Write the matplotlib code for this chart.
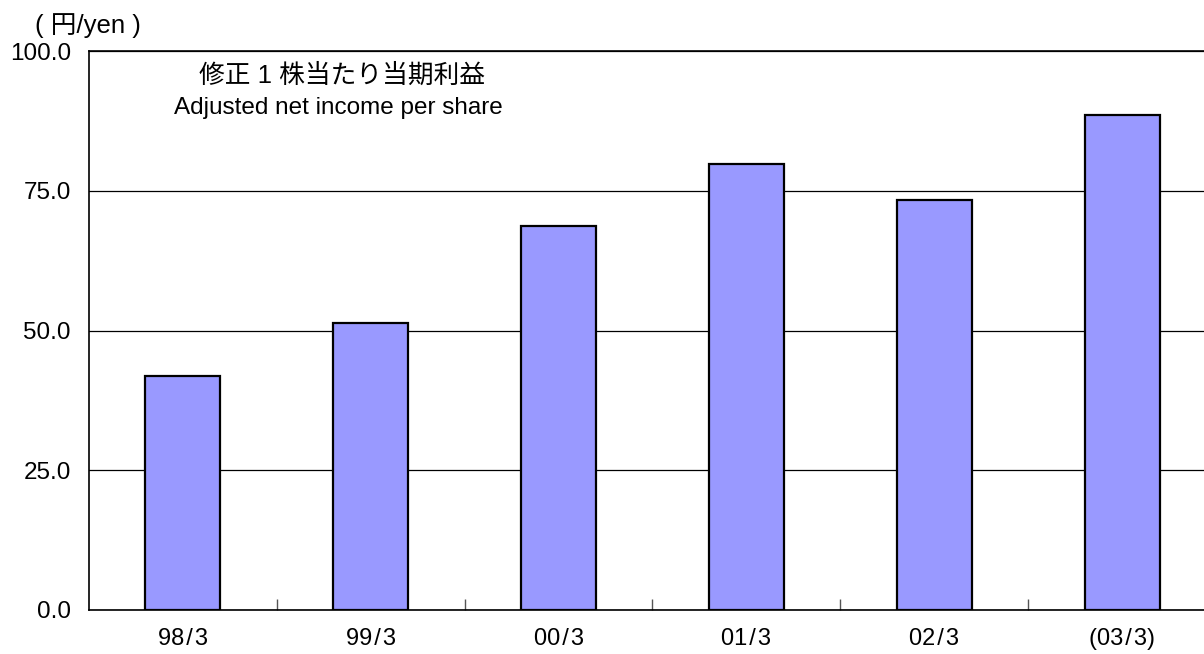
import matplotlib
matplotlib.use("Agg")
import matplotlib.pyplot as plt

categories = ["98/3", "99/3", "00/3", "01/3", "02/3", "(03/3)"]
values = [41.9, 51.3, 68.7, 79.7, 73.3, 88.6]
yticks = [0.0, 25.0, 50.0, 75.0, 100.0]

plt.rcParams['font.family'] = ['Liberation Sans', 'Noto Sans CJK JP', 'DejaVu Sans']

fig = plt.figure(figsize=(12.04, 6.54), dpi=100)
ax = fig.add_axes([89/1204, 44/654, (1216-89)/1204, (610-51)/654])

x = list(range(len(categories)))
ax.bar(x, values, width=0.40, color="#9999FF", edgecolor="black", linewidth=1.6, zorder=3)

ax.set_xlim(-0.5, len(categories) - 0.5)
ax.set_ylim(0, 100)
ax.set_yticks(yticks)
ax.set_yticklabels([f"{v:.1f}" for v in yticks], fontsize=17.5)
ax.tick_params(axis='y', length=0, pad=13)
ax.yaxis.grid(True, color="black", linewidth=0.9, zorder=0)
ax.set_axisbelow(True)

ax.set_xticks(x)
ax.set_xticklabels([c.replace("/", "\u200a/\u200a") for c in categories], fontsize=17)
ax.tick_params(axis='x', which='major', length=0, pad=13)
ax.set_xticks([i + 0.5 for i in x[:-1]], minor=True)
ax.tick_params(axis='x', which='minor', direction='in', length=8, width=1, color="#555555")

for s in ['left', 'bottom', 'top']:
    ax.spines[s].set_linewidth(1.2)
ax.spines['right'].set_visible(False)

fig.text(35/1204, 1 - 26/654, "( 円/yen )", fontsize=18.5, va='center', ha='left')
fig.text(342/1204, 1 - 76/654, "修正 1 株当たり当期利益", fontsize=18.5, ha='center', va='center')
fig.text(338/1204, 1 - 108/654, "Adjusted net income per share", fontsize=17.5, ha='center', va='center')

fig.savefig("out.png", dpi=100)
